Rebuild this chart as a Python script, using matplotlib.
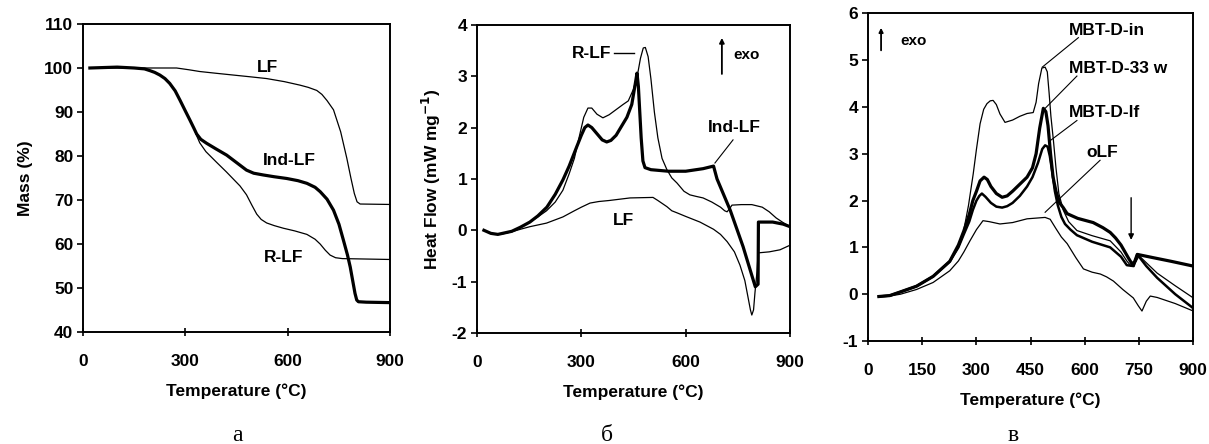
import matplotlib
matplotlib.use("Agg")
import matplotlib.pyplot as plt

plt.rcParams['font.family'] = ['Liberation Sans', 'DejaVu Sans']
plt.rcParams['axes.unicode_minus'] = False

# ---------------- Panel a : TG ----------------
a_lf_T = [20, 100, 200, 274, 310, 342, 390, 440, 490, 538, 590, 636, 660, 685, 700, 715, 734, 755, 773, 785, 795, 803, 812, 900]
a_lf_M = [100, 100, 100, 100, 99.6, 99.2, 98.8, 98.4, 98.0, 97.6, 96.9, 96.1, 95.6, 94.9, 94.0, 92.6, 90.5, 85.5, 79.5, 75.0, 71.5, 69.6, 69.1, 69]

a_ind_T = [20, 100, 150, 180, 196, 210, 225, 240, 254, 270, 284, 300, 313, 325, 333, 345, 362, 390, 421, 450, 479, 500, 528, 560, 597, 630, 656, 680, 695, 715, 734, 750, 763, 775, 783, 790, 797, 802, 807, 830, 900]
a_ind_M = [100, 100.2, 100, 99.8, 99.4, 99.0, 98.4, 97.6, 96.5, 94.8, 92.7, 90.2, 88.2, 86.3, 85.0, 83.8, 82.9, 81.6, 80.2, 78.5, 76.8, 76.1, 75.7, 75.3, 74.9, 74.4, 73.8, 72.9, 71.9, 70.2, 67.7, 64.5, 60.9, 57.5, 54.8, 51.8, 48.8, 47.3, 46.9, 46.8, 46.7]

a_r_T = [20, 100, 150, 180, 196, 210, 225, 240, 254, 270, 284, 300, 313, 325, 333, 342, 360, 391, 420, 440, 460, 479, 495, 509, 522, 538, 560, 587, 620, 656, 680, 695, 710, 724, 740, 760, 900]
a_r_M = [100, 100.2, 100, 99.8, 99.4, 99.0, 98.4, 97.6, 96.5, 94.8, 92.7, 90.2, 88.2, 86.3, 84.6, 83.0, 81.0, 78.6, 76.4, 74.8, 73.2, 71.2, 68.8, 66.8, 65.6, 64.8, 64.2, 63.6, 63.0, 62.2, 61.1, 60.0, 58.6, 57.5, 56.9, 56.7, 56.5]

# ---------------- Panel b : DSC ----------------
b_r_T = [20, 40, 60, 80, 100, 125, 152, 175, 200, 225, 247, 265, 280, 295, 307, 319, 330, 345, 362, 380, 400, 420, 435, 450, 462, 470, 478, 484, 492, 500, 510, 520, 532, 546, 560, 575, 595, 612, 630, 650, 675, 700, 712, 719, 726, 733, 760, 790, 820, 840, 860, 880, 900]
b_r_V = [0.0, -0.06, -0.08, -0.06, -0.02, 0.06, 0.16, 0.26, 0.38, 0.55, 0.78, 1.1, 1.4, 1.85, 2.2, 2.38, 2.38, 2.26, 2.19, 2.25, 2.35, 2.45, 2.52, 2.75, 3.05, 3.35, 3.55, 3.56, 3.38, 2.95, 2.3, 1.8, 1.4, 1.18, 1.02, 0.92, 0.76, 0.69, 0.66, 0.63, 0.55, 0.45, 0.38, 0.36, 0.42, 0.49, 0.5, 0.5, 0.45, 0.36, 0.24, 0.15, 0.07]

b_ind_T = [20, 40, 60, 80, 100, 125, 152, 175, 201, 225, 247, 265, 287, 300, 310, 319, 330, 345, 360, 373, 385, 400, 415, 431, 445, 455, 460, 464, 468, 472, 477, 483, 500, 550, 600, 650, 680, 690, 728, 765, 800, 808, 809, 850, 880, 900]
b_ind_V = [0.0, -0.06, -0.08, -0.05, -0.02, 0.06, 0.16, 0.28, 0.45, 0.7, 0.98, 1.25, 1.63, 1.85, 2.0, 2.05, 2.0, 1.88, 1.76, 1.72, 1.75, 1.85, 2.02, 2.2, 2.45, 2.85, 3.06, 2.8, 2.3, 1.8, 1.35, 1.22, 1.18, 1.15, 1.15, 1.2, 1.25, 1.0, 0.39, -0.32, -1.1, -1.05, 0.16, 0.16, 0.12, 0.07]

b_lf_T = [20, 40, 60, 80, 100, 125, 152, 200, 247, 280, 300, 325, 350, 380, 440, 506, 520, 546, 560, 575, 600, 641, 680, 700, 719, 740, 756, 770, 779, 786, 790, 795, 799, 805, 808, 840, 871, 900]
b_lf_V = [0.0, -0.06, -0.08, -0.06, -0.03, 0.02, 0.07, 0.14, 0.26, 0.38, 0.45, 0.53, 0.56, 0.58, 0.63, 0.64, 0.58, 0.46, 0.38, 0.34, 0.27, 0.16, 0.02, -0.08, -0.22, -0.42, -0.68, -0.98, -1.3, -1.55, -1.65, -1.55, -1.22, -0.8, -0.44, -0.42, -0.38, -0.29]

# ---------------- Panel c : DSC ----------------
c_in_T = [30, 60, 90, 134, 180, 226, 250, 263, 278, 291, 300, 310, 320, 329, 338, 346, 355, 365, 379, 400, 420, 440, 457, 465, 472, 481, 490, 496, 501, 506, 513, 520, 528, 540, 555, 578, 620, 670, 700, 716, 728, 735, 750, 800, 850, 900]
c_in_V = [-0.05, -0.03, 0.05, 0.17, 0.38, 0.7, 1.0, 1.29, 1.9, 2.57, 3.1, 3.64, 3.95, 4.07, 4.13, 4.14, 4.05, 3.85, 3.67, 3.72, 3.8, 3.86, 3.88, 4.1, 4.5, 4.83, 4.85, 4.75, 4.3, 3.8, 3.28, 2.7, 2.15, 1.8, 1.55, 1.36, 1.25, 1.14, 0.9, 0.71, 0.6, 0.6, 0.82, 0.45, 0.18, -0.08]

c_33_T = [30, 60, 90, 134, 180, 226, 250, 265, 280, 290, 300, 310, 321, 330, 340, 355, 371, 385, 400, 420, 440, 455, 465, 475, 485, 492, 498, 505, 512, 520, 530, 540, 551, 580, 623, 650, 670, 685, 700, 720, 731, 738, 745, 789, 840, 900]
c_33_V = [-0.05, -0.03, 0.05, 0.17, 0.38, 0.7, 1.05, 1.35, 1.7, 2.0, 2.2, 2.42, 2.5, 2.45, 2.3, 2.15, 2.07, 2.1, 2.2, 2.35, 2.5, 2.7, 3.0, 3.55, 3.97, 3.9, 3.6, 3.0, 2.5, 2.2, 1.95, 1.85, 1.72, 1.62, 1.53, 1.42, 1.32, 1.2, 1.05, 0.78, 0.64, 0.7, 0.85, 0.78, 0.7, 0.6]

c_lf_T = [30, 60, 90, 134, 180, 226, 250, 265, 280, 290, 300, 308, 315, 325, 340, 355, 371, 385, 400, 420, 440, 455, 470, 482, 490, 497, 503, 510, 517, 525, 535, 545, 560, 578, 620, 670, 700, 716, 735, 745, 770, 800, 850, 900]
c_lf_V = [-0.05, -0.03, 0.05, 0.17, 0.38, 0.7, 1.0, 1.28, 1.55, 1.8, 2.0, 2.1, 2.15, 2.08, 1.95, 1.87, 1.85, 1.88, 1.95, 2.1, 2.3, 2.5, 2.8, 3.1, 3.18, 3.15, 2.95, 2.6, 2.2, 1.9, 1.65, 1.5, 1.38, 1.26, 1.12, 1.0, 0.8, 0.62, 0.6, 0.85, 0.6, 0.35, 0.0, -0.3]

c_olf_T = [30, 60, 90, 134, 180, 226, 250, 265, 282, 300, 318, 335, 365, 400, 440, 490, 504, 520, 535, 551, 575, 596, 620, 643, 660, 679, 705, 734, 748, 758, 770, 781, 800, 850, 900]
c_olf_V = [-0.05, -0.04, 0.0, 0.1, 0.25, 0.5, 0.71, 0.9, 1.14, 1.38, 1.57, 1.55, 1.5, 1.53, 1.61, 1.64, 1.6, 1.4, 1.22, 1.08, 0.78, 0.54, 0.47, 0.43, 0.37, 0.28, 0.1, -0.08, -0.25, -0.36, -0.15, -0.04, -0.07, -0.2, -0.36]

x_ticks_ab = [0, 300, 600, 900]
x_ticks_c = [0, 150, 300, 450, 600, 750, 900]
y_ticks_a = [40, 50, 60, 70, 80, 90, 100, 110]
y_ticks_b = [-2, -1, 0, 1, 2, 3, 4]
y_ticks_c = [-1, 0, 1, 2, 3, 4, 5, 6]

TH = 0.9
TK = 2.3
FS = 12.5
TXT = dict(fontsize=FS, fontweight='bold')

fig = plt.figure(figsize=(12.09, 4.44), dpi=100)
ax_a = fig.add_axes([0.0687, 0.252, 0.254, 0.694])
ax_b = fig.add_axes([0.3945, 0.250, 0.259, 0.694])
ax_c = fig.add_axes([0.718, 0.232, 0.269, 0.738])


def style(ax, xt, yt):
    ax.set_xticks(xt)
    ax.set_yticks(yt)
    ax.set_xlim(xt[0], xt[-1])
    ax.set_ylim(yt[0], yt[-1])
    for s in ax.spines.values():
        s.set_linewidth(1.4)
    ax.tick_params(axis='x', direction='inout', length=6, width=1.2, pad=13, labelsize=FS)
    ax.tick_params(axis='y', direction='out', length=4, width=1.2, pad=3, labelsize=FS)
    for lab in ax.get_xticklabels() + ax.get_yticklabels():
        lab.set_fontweight('bold')
    ax.set_xlabel('Temperature (°C)', fontsize=FS, fontweight='bold', labelpad=10)


# Panel a
ax_a.plot(a_lf_T, a_lf_M, color='black', lw=TH)
ax_a.plot(a_r_T, a_r_M, color='black', lw=TH)
ax_a.plot(a_ind_T, a_ind_M, color='black', lw=TK)
style(ax_a, x_ticks_ab, y_ticks_a)
ax_a.set_ylabel('Mass (%)', fontsize=FS, fontweight='bold', labelpad=8)
ax_a.text(542, 100, 'LF', ha='center', va='center', **TXT)
ax_a.text(604, 79, 'Ind-LF', ha='center', va='center', **TXT)
ax_a.text(588, 57, 'R-LF', ha='center', va='center', **TXT)

# Panel b
ax_b.plot(b_lf_T, b_lf_V, color='black', lw=TH)
ax_b.plot(b_r_T, b_r_V, color='black', lw=TH)
ax_b.plot(b_ind_T, b_ind_V, color='black', lw=TK)
style(ax_b, x_ticks_ab, y_ticks_b)
ax_b.set_ylabel('Heat Flow (mW mg$^{\\mathbf{-1}}$)', fontsize=FS, fontweight='bold', labelpad=6)
ax_b.text(330, 3.45, 'R-LF', ha='center', va='center', **TXT)
ax_b.plot([393, 450], [3.45, 3.45], color='black', lw=1.0)
ax_b.annotate('', xy=(704, 3.8), xytext=(704, 2.99),
              arrowprops=dict(arrowstyle='-|>', color='black', lw=1.3, mutation_scale=7))
ax_b.text(737, 3.42, 'exo', ha='left', va='center', fontsize=11, fontweight='bold')
ax_b.text(740, 2.0, 'Ind-LF', ha='center', va='center', **TXT)
ax_b.plot([736, 684], [1.76, 1.31], color='black', lw=0.8)
ax_b.text(420, 0.2, 'LF', ha='center', va='center', **TXT)

# Panel c
ax_c.plot(c_olf_T, c_olf_V, color='black', lw=TH)
ax_c.plot(c_in_T, c_in_V, color='black', lw=TH)
ax_c.plot(c_lf_T, c_lf_V, color='black', lw=1.8)
ax_c.plot(c_33_T, c_33_V, color='black', lw=TK)
style(ax_c, x_ticks_c, y_ticks_c)
ax_c.annotate('', xy=(36, 5.75), xytext=(36, 5.15),
              arrowprops=dict(arrowstyle='-|>', color='black', lw=1.3, mutation_scale=6))
ax_c.text(90, 5.4, 'exo', ha='left', va='center', fontsize=11, fontweight='bold')
ax_c.annotate('', xy=(728, 1.1), xytext=(728, 2.12),
              arrowprops=dict(arrowstyle='-|>', color='black', lw=1.0, mutation_scale=8))
ax_c.text(555, 5.64, 'MBT-D-in', ha='left', va='center', **TXT)
ax_c.plot([582, 482], [5.48, 4.85], color='black', lw=0.8)
ax_c.text(555, 4.83, 'MBT-D-33 w', ha='left', va='center', **TXT)
ax_c.plot([578, 490], [4.66, 3.97], color='black', lw=0.8)
ax_c.text(555, 3.89, 'MBT-D-lf', ha='left', va='center', **TXT)
ax_c.plot([578, 504], [3.71, 3.28], color='black', lw=0.8)
ax_c.text(605, 3.03, 'oLF', ha='left', va='center', **TXT)
ax_c.plot([642, 490], [2.86, 1.75], color='black', lw=0.8)

# sub-figure letters
for xc, s in [(237, 'а'), (607, 'б'), (1013, 'в')]:
    fig.text(xc / 1209, 1 - 435 / 444, s, ha='center', va='center',
             fontsize=17, family=['Liberation Serif', 'DejaVu Serif'])

fig.savefig('out.png', dpi=100)
